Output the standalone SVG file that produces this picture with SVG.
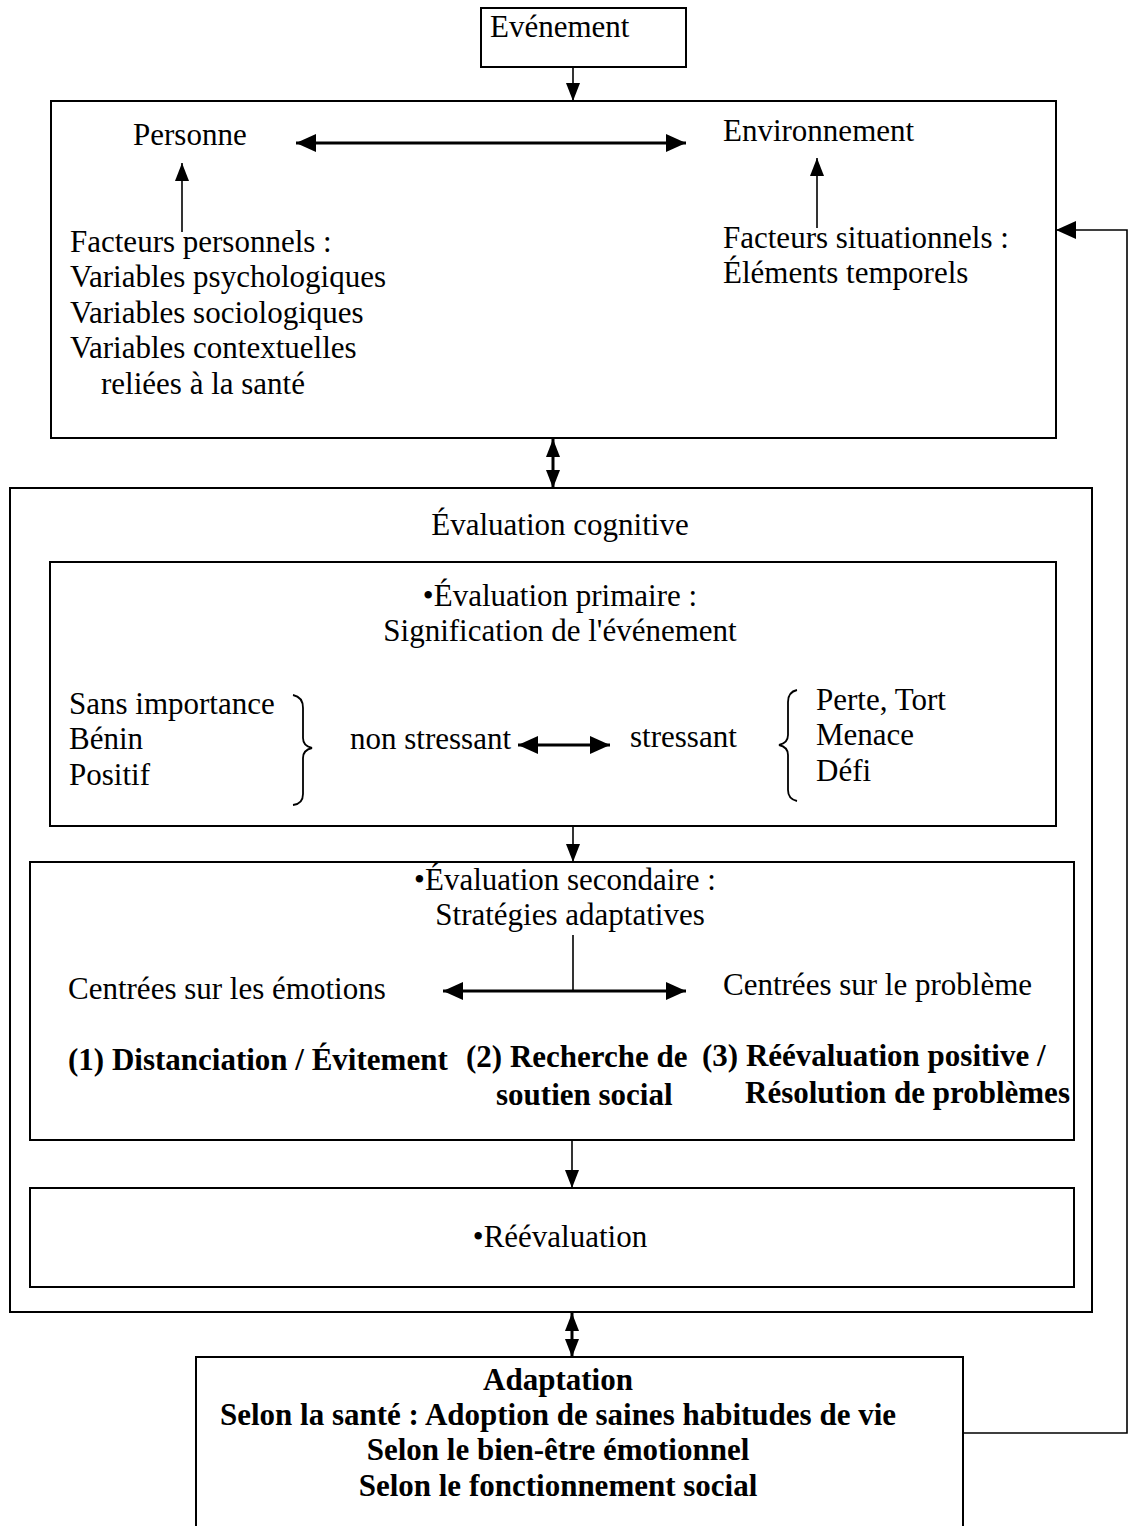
<svg xmlns="http://www.w3.org/2000/svg" width="1131" height="1526" viewBox="0 0 1131 1526">
<defs>
<marker id="ah" viewBox="0 0 18 14" refX="18" refY="7" markerWidth="18" markerHeight="14" markerUnits="userSpaceOnUse" orient="auto-start-reverse">
<path d="M0,0 L18,7 L0,14 z" fill="#000"/>
</marker>
<marker id="ahb" viewBox="0 0 20 18" refX="20" refY="9" markerWidth="20" markerHeight="18" markerUnits="userSpaceOnUse" orient="auto-start-reverse">
<path d="M0,0 L20,9 L0,18 z" fill="#000"/>
</marker>
</defs>
<style>
rect{fill:none;stroke:#000;stroke-width:2}
text{font-family:"Liberation Serif","Times New Roman",serif;font-size:31px;fill:#000}
.b{font-weight:bold}
.m{text-anchor:middle}
.c{fill:none;stroke:#000;stroke-width:1.6}
.t{fill:none;stroke:#000;stroke-width:3}
.br{fill:none;stroke:#000;stroke-width:1.8}
</style>
<rect width="1131" height="1526" style="fill:#fff;stroke:none"/>
<g id="evenement">
<rect x="481" y="8" width="205" height="59"/>
<text x="490" y="37">Evénement</text>
</g>
<g id="personne-environnement">
<rect x="51" y="101" width="1005" height="337"/>
<text x="133" y="145">Personne</text>
<text x="723" y="141">Environnement</text>
<text x="70" y="252">Facteurs personnels :</text>
<text x="70" y="287">Variables psychologiques</text>
<text x="70" y="323">Variables sociologiques</text>
<text x="70" y="358">Variables contextuelles</text>
<text x="101" y="394">reliées à la santé</text>
<text x="723" y="248">Facteurs situationnels :</text>
<text x="723" y="283">Éléments temporels</text>
</g>
<g id="evaluation-cognitive">
<rect x="10" y="488" width="1082" height="824"/>
<text class="m" x="560" y="535">Évaluation cognitive</text>
</g>
<g id="evaluation-primaire">
<rect x="50" y="562" width="1006" height="264"/>
<text class="m" x="560" y="606">•Évaluation primaire :</text>
<text class="m" x="560" y="641">Signification de l'événement</text>
<text x="69" y="714">Sans importance</text>
<text x="69" y="749">Bénin</text>
<text x="69" y="785">Positif</text>
<path class="br" d="M293,695 Q303,697 303,708 L303,738 Q303,746 312,748 Q303,750 303,758 L303,794 Q303,804 293,805"/>
<text x="350" y="749">non stressant</text>
<text x="630" y="747">stressant</text>
<path class="br" d="M797,690 Q788,692 788,702 L788,735 Q788,743 779,745 Q788,747 788,755 L788,790 Q788,799 797,801"/>
<text x="816" y="710">Perte, Tort</text>
<text x="816" y="745">Menace</text>
<text x="816" y="781">Défi</text>
</g>
<g id="evaluation-secondaire">
<rect x="30" y="862" width="1044" height="278"/>
<text class="m" x="565" y="890">•Évaluation secondaire :</text>
<text class="m" x="570" y="925">Stratégies adaptatives</text>
<text x="68" y="999">Centrées sur les émotions</text>
<text x="723" y="995">Centrées sur le problème</text>
<text class="b" x="68" y="1070">(1) Distanciation / Évitement</text>
<text class="b" x="466" y="1067">(2) Recherche de</text>
<text class="b" x="496" y="1105">soutien social</text>
<text class="b" x="702" y="1066">(3) Réévaluation positive /</text>
<text class="b" x="745" y="1103">Résolution de problèmes</text>
</g>
<g id="reevaluation">
<rect x="30" y="1188" width="1044" height="99"/>
<text class="m" x="560" y="1247">•Réévaluation</text>
</g>
<g id="adaptation">
<rect x="196" y="1357" width="767" height="180"/>
<text class="b m" x="558" y="1390">Adaptation</text>
<text class="b m" x="558" y="1425">Selon la santé : Adoption de saines habitudes de vie</text>
<text class="b m" x="558" y="1460">Selon le bien-être émotionnel</text>
<text class="b m" x="558" y="1496">Selon le fonctionnement social</text>
</g>
<g id="connectors">
<line class="c" x1="573" y1="67" x2="573" y2="101" marker-end="url(#ah)"/>
<line class="t" x1="296" y1="143" x2="686" y2="143" marker-start="url(#ahb)" marker-end="url(#ahb)"/>
<line class="c" x1="182" y1="232" x2="182" y2="163" marker-end="url(#ah)"/>
<line class="c" x1="817" y1="228" x2="817" y2="158" marker-end="url(#ah)"/>
<line class="t" x1="553" y1="439" x2="553" y2="488" marker-start="url(#ah)" marker-end="url(#ah)"/>
<line class="t" x1="518" y1="745" x2="610" y2="745" marker-start="url(#ahb)" marker-end="url(#ahb)"/>
<line class="c" x1="573" y1="826" x2="573" y2="862" marker-end="url(#ah)"/>
<line class="c" x1="573" y1="935" x2="573" y2="991"/>
<line class="t" x1="443" y1="991" x2="686" y2="991" marker-start="url(#ahb)" marker-end="url(#ahb)"/>
<line class="c" x1="572" y1="1140" x2="572" y2="1188" marker-end="url(#ah)"/>
<line class="t" x1="572" y1="1313" x2="572" y2="1357" marker-start="url(#ah)" marker-end="url(#ah)"/>
<polyline class="c" points="963,1433 1127,1433 1127,230 1056,230" marker-end="url(#ahb)"/>
</g>
</svg>
